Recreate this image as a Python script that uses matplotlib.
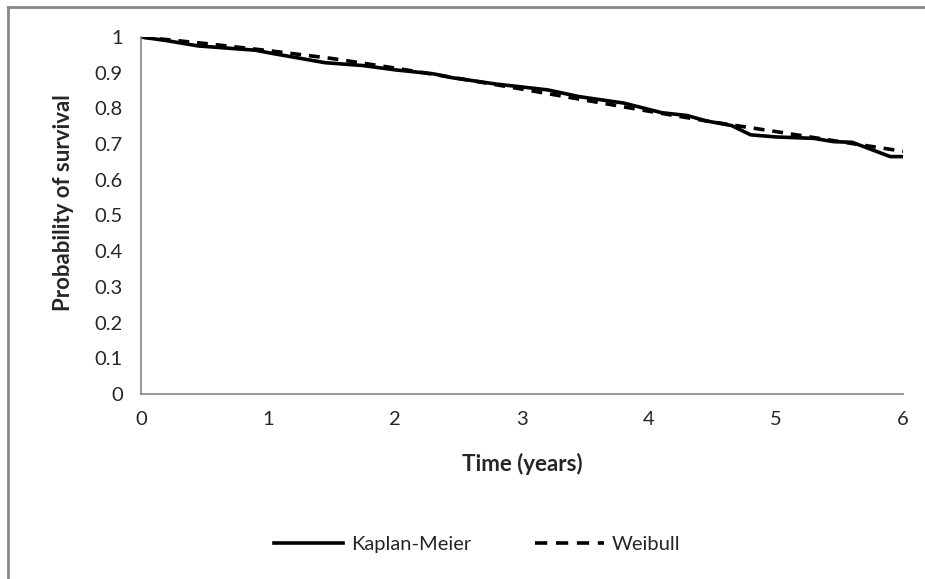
import matplotlib.pyplot as plt
from matplotlib.lines import Line2D

# Kaplan-Meier estimate
km_time = [0, 0.2, 0.45, 0.9, 1.05, 1.45, 1.75, 2.0, 2.3, 2.45, 2.8, 3.0, 3.2, 3.45,
           3.8, 4.1, 4.3, 4.45, 4.65, 4.8, 5.0, 5.3, 5.45, 5.6, 5.75, 5.9, 6.0]
km_surv = [1.0, 0.99, 0.975, 0.963, 0.953, 0.928, 0.92, 0.908, 0.897, 0.886, 0.868, 0.86,
           0.852, 0.833, 0.815, 0.788, 0.78, 0.765, 0.752, 0.726, 0.72, 0.716, 0.707,
           0.705, 0.685, 0.665, 0.665]

# Weibull fit
wb_time = [0, 0.5, 1, 1.5, 2, 2.5, 3, 3.5, 4, 4.5, 5, 5.5, 6]
wb_surv = [1.0, 0.982, 0.962, 0.94, 0.913, 0.884, 0.854, 0.823, 0.792, 0.762, 0.735, 0.707, 0.68]

x_ticks = [0, 1, 2, 3, 4, 5, 6]
y_ticks = [0, 0.1, 0.2, 0.3, 0.4, 0.5, 0.6, 0.7, 0.8, 0.9, 1]
y_labels = ['0', '0.1', '0.2', '0.3', '0.4', '0.5', '0.6', '0.7', '0.8', '0.9', '1']

plt.rcParams['font.family'] = ['Lato', 'DejaVu Sans']
txt = '#262626'
grey = '#878787'
fs = 14.5

fig = plt.figure(figsize=(9.25, 5.79), dpi=100)
ax = fig.add_axes([141 / 925, 1 - 394 / 579, (903 - 141) / 925, (394 - 37) / 579])

ax.plot(km_time, km_surv, color='black', lw=2.6, solid_joinstyle='round')
ax.plot(wb_time, wb_surv, color='black', lw=2.6, dashes=(3.0, 2.2))

ax.set_xlim(0, 6)
ax.set_ylim(0, 1)
ax.set_xticks(x_ticks)
ax.set_yticks(y_ticks)
ax.set_yticklabels(y_labels)
ax.tick_params(length=0, labelsize=fs, colors=txt, pad=12)
ax.tick_params(axis='y', pad=13)
for side in ['top', 'right']:
    ax.spines[side].set_visible(False)
for side in ['left', 'bottom']:
    ax.spines[side].set_color(grey)
    ax.spines[side].set_linewidth(1.2)

ax.set_xlabel('Time (years)', fontsize=16, fontweight='bold', color=txt, labelpad=18)
ax.set_ylabel('Probability of survival', fontsize=16, fontweight='bold', color=txt)
ax.yaxis.set_label_coords(-0.088, 0.535)

handles = [Line2D([], [], color='black', lw=2.6),
           Line2D([], [], color='black', lw=2.6, dashes=(3.4, 2.4))]
fig.legend(handles, ['Kaplan-Meier', 'Weibull'], loc='center', bbox_to_anchor=(0.516, 1 - 544 / 579),
           ncol=2, frameon=False, fontsize=fs, handlelength=3.4, handletextpad=0.4,
           columnspacing=3.2, labelcolor=txt)

# outer chart border (top and left edges visible)
fig.add_artist(Line2D([8 / 925, 8 / 925], [0, 1 - 7 / 579], color=grey, lw=2))
fig.add_artist(Line2D([8 / 925, 1], [1 - 7 / 579, 1 - 7 / 579], color=grey, lw=2))

fig.savefig('out.png', dpi=100)
